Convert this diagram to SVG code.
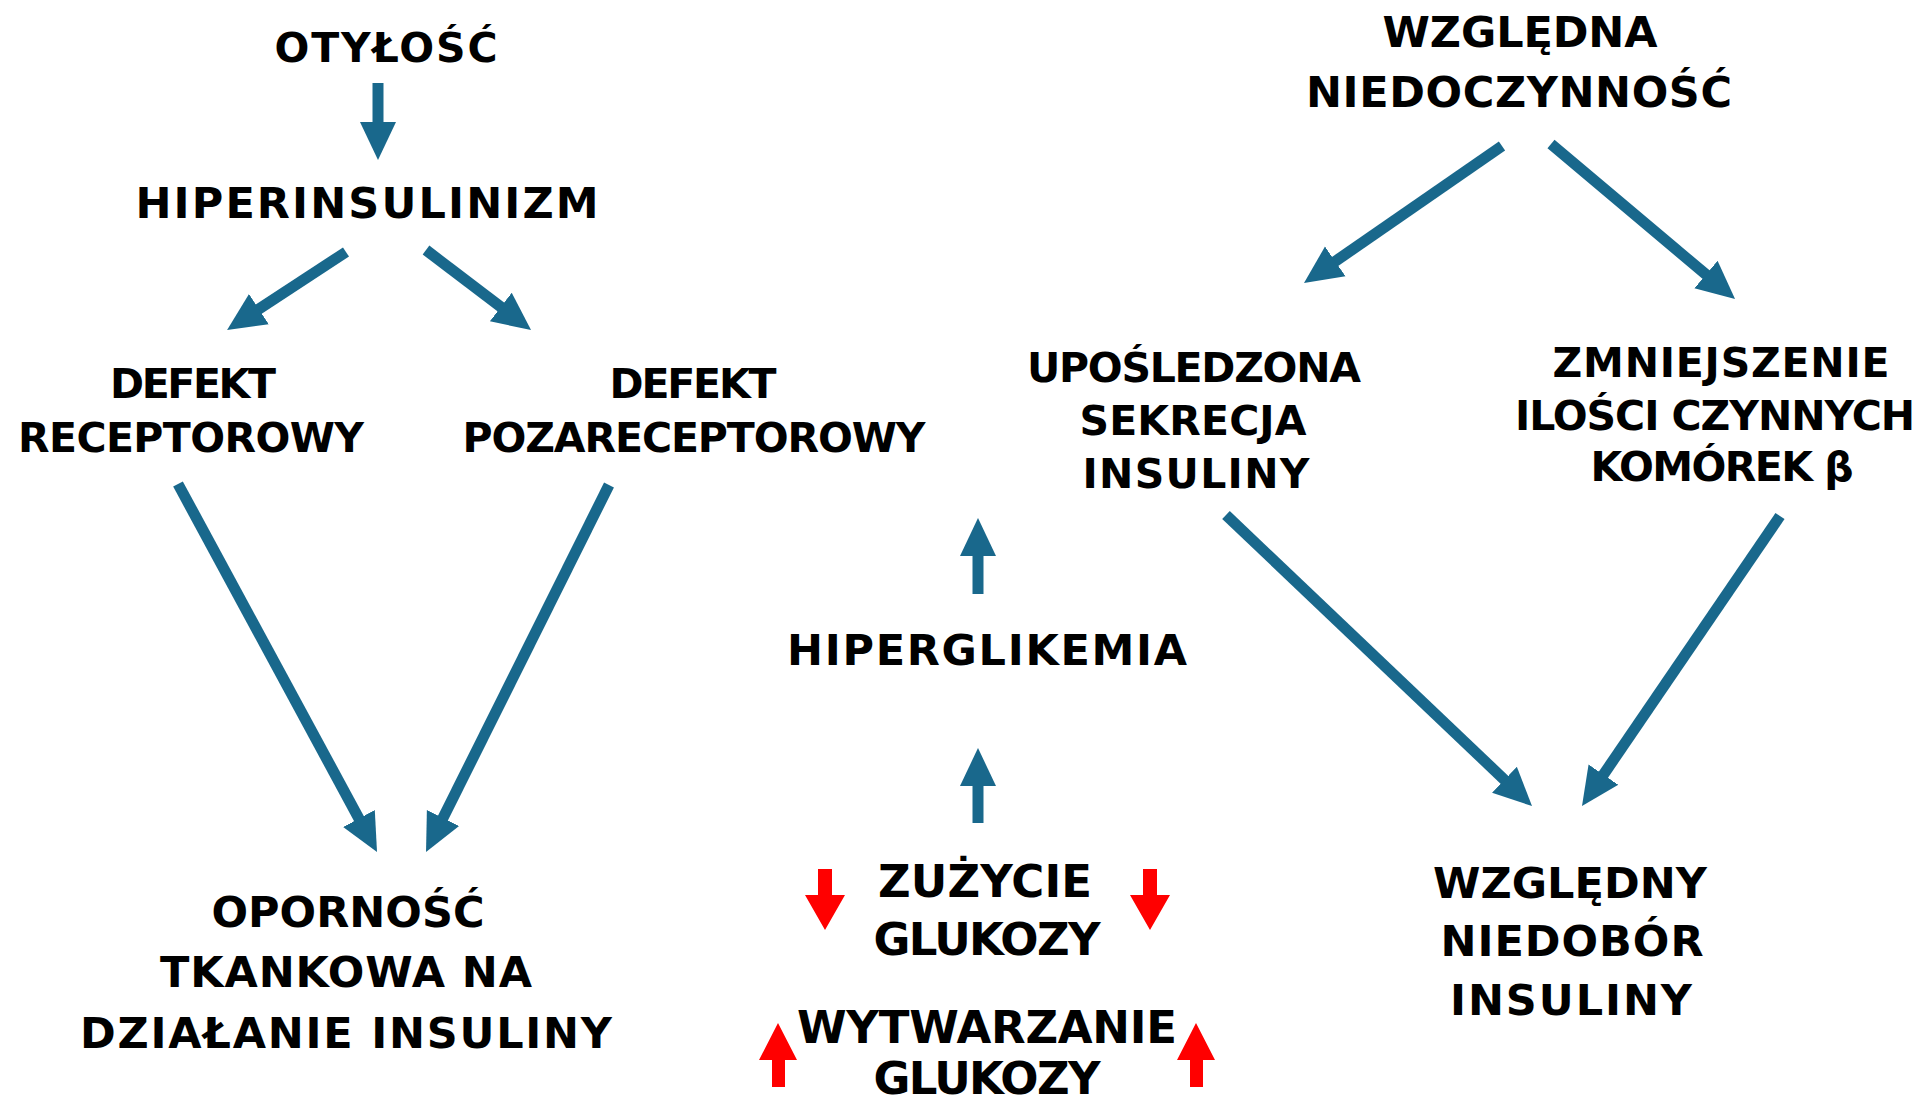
<svg xmlns="http://www.w3.org/2000/svg" width="1920" height="1103" viewBox="0 0 1920 1103">
<style>
text{font-family:"DejaVu Sans","Verdana","Liberation Sans",sans-serif;font-weight:bold;fill:#000;text-anchor:middle}
.s{font-size:41px}.m{font-size:43px}.l{font-size:45px}
.c{stroke:#19688C;stroke-width:11;fill:none;marker-end:url(#ah)}
.r{fill:#FF0000}
</style>
<defs>
<marker id="ah" markerUnits="userSpaceOnUse" markerWidth="40" markerHeight="40" viewBox="-2 -20 40 40" refX="0" refY="0" orient="auto">
<path d="M-2,-18 L36,0 L-2,18 z" fill="#19688C"/>
</marker>
</defs>
<rect width="1920" height="1103" fill="#fff"/>
<g id="connectors">
<line class="c" x1="378" y1="83" x2="378" y2="124"/>
<line class="c" x1="346" y1="252" x2="257.2" y2="310.2"/>
<line class="c" x1="426" y1="250" x2="502.4" y2="308.2"/>
<line class="c" x1="178" y1="484" x2="359.9" y2="820.3"/>
<line class="c" x1="609" y1="485" x2="442.1" y2="819.8"/>
<line class="c" x1="1502" y1="146" x2="1333.6" y2="262.5"/>
<line class="c" x1="1551" y1="144" x2="1707.5" y2="275.8"/>
<line class="c" x1="1226" y1="515" x2="1505.9" y2="781.2"/>
<line class="c" x1="1780" y1="516" x2="1602.3" y2="776.3"/>
<line class="c" x1="978" y1="594" x2="978" y2="554"/>
<line class="c" x1="978" y1="823" x2="978" y2="784"/>
</g>
<g id="otylosc"><text class="s" x="386" y="62" textLength="223" lengthAdjust="spacing">OTYŁOŚĆ</text></g>
<g id="hiperinsulinizm"><text class="m" x="367" y="218" textLength="463" lengthAdjust="spacing">HIPERINSULINIZM</text></g>
<g id="defekt-receptorowy">
<text class="s" x="193" y="398" textLength="166" lengthAdjust="spacing">DEFEKT</text>
<text class="s" x="191" y="452" textLength="346" lengthAdjust="spacing">RECEPTOROWY</text>
</g>
<g id="defekt-pozareceptorowy">
<text class="s" x="693" y="398" textLength="167" lengthAdjust="spacing">DEFEKT</text>
<text class="s" x="694" y="452" textLength="463" lengthAdjust="spacing">POZARECEPTOROWY</text>
</g>
<g id="opornosc">
<text class="m" x="348" y="927" textLength="273" lengthAdjust="spacing">OPORNOŚĆ</text>
<text class="m" x="346" y="987" textLength="372" lengthAdjust="spacing">TKANKOWA  NA</text>
<text class="m" x="346" y="1048" textLength="532" lengthAdjust="spacing">DZIAŁANIE INSULINY</text>
</g>
<g id="wzgledna-niedoczynnosc">
<text class="m" x="1520" y="47" textLength="275" lengthAdjust="spacing">WZGLĘDNA</text>
<text class="m" x="1519" y="107" textLength="426" lengthAdjust="spacing">NIEDOCZYNNOŚĆ</text>
</g>
<g id="uposledzona-sekrecja">
<text class="s" x="1194" y="382" textLength="334" lengthAdjust="spacing">UPOŚLEDZONA</text>
<text class="s" x="1193" y="435" textLength="227" lengthAdjust="spacing">SEKRECJA</text>
<text class="s" x="1196" y="488" textLength="227" lengthAdjust="spacing">INSULINY</text>
</g>
<g id="zmniejszenie">
<text class="s" x="1721" y="377" textLength="337" lengthAdjust="spacing">ZMNIEJSZENIE</text>
<text class="s" x="1715" y="430" textLength="400" lengthAdjust="spacing">ILOŚCI CZYNNYCH</text>
<text class="s" x="1722" y="481" textLength="263" lengthAdjust="spacing">KOMÓREK β</text>
</g>
<g id="hiperglikemia"><text class="m" x="987" y="665" textLength="400" lengthAdjust="spacing">HIPERGLIKEMIA</text></g>
<g id="zuzycie-wytwarzanie">
<text class="l" x="985" y="897" textLength="214" lengthAdjust="spacing">ZUŻYCIE</text>
<text class="l" x="987" y="955" textLength="227" lengthAdjust="spacing">GLUKOZY</text>
<text class="l" x="987" y="1043" textLength="380" lengthAdjust="spacing">WYTWARZANIE</text>
<text class="l" x="987" y="1094" textLength="227" lengthAdjust="spacing">GLUKOZY</text>
<polygon class="r" points="818,869 832,869 832,895 845,895 825,930 805,895 818,895"/>
<polygon class="r" points="1143,869 1157,869 1157,895 1170,895 1150,930 1130,895 1143,895"/>
<polygon class="r" points="772,1087 785,1087 785,1060 797,1060 778,1023 759,1060 772,1060"/>
<polygon class="r" points="1190,1087 1203,1087 1203,1060 1215,1060 1196,1023 1177,1060 1190,1060"/>
</g>
<g id="wzgledny-niedobor">
<text class="m" x="1570" y="898" textLength="274" lengthAdjust="spacing">WZGLĘDNY</text>
<text class="m" x="1572" y="956" textLength="263" lengthAdjust="spacing">NIEDOBÓR</text>
<text class="m" x="1571" y="1015" textLength="242" lengthAdjust="spacing">INSULINY</text>
</g>
</svg>
